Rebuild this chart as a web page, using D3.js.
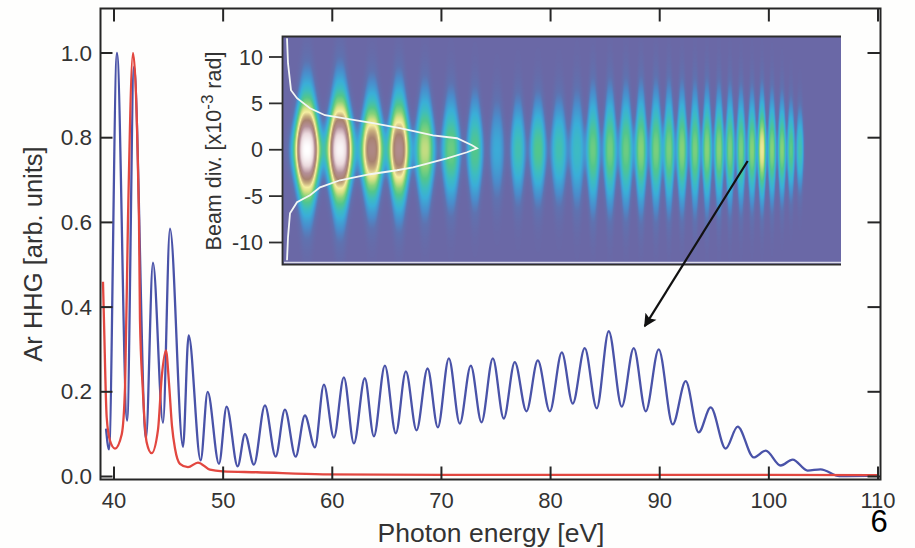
<!DOCTYPE html>
<html>
<head>
<meta charset="utf-8">
<script src="https://cdn.jsdelivr.net/npm/d3@7"></script>
<style>
html, body { margin: 0; padding: 0; background: #fefefd; }
svg { display: block; }
text { font-family: "Liberation Sans", Arial, sans-serif; fill: #333; }
</style>
</head>
<body>
<div id="chart"></div>
<script>
const xTicks = [40, 50, 60, 70, 80, 90, 100, 110];
const yTicks = [0, 0.2, 0.4, 0.6, 0.8, 1.0];
const divTicks = [-10, -5, 0, 5, 10];

// blue curve, peaks and valleys
const blueEnergy = [39.27, 39.54, 40.27, 41.2, 41.83, 42.93, 43.57, 44.49, 45.13, 46.32, 46.84, 47.94, 48.58, 49.62, 50.32, 51.33, 52.0, 52.82, 53.83, 54.81, 55.66, 56.64, 57.49, 58.41, 59.23, 60.15, 61.06, 61.98, 62.98, 63.81, 64.82, 65.82, 66.74, 67.72, 68.73, 69.67, 70.68, 71.68, 72.69, 73.67, 74.71, 75.71, 76.72, 77.79, 78.83, 79.93, 81.03, 82.03, 83.13, 84.23, 85.33, 86.52, 87.62, 88.72, 89.91, 91.19, 92.38, 93.57, 94.67, 96.04, 97.14, 98.61, 99.71, 101.08, 102.18, 103.55, 104.74, 106.48, 109.96];
const blueValue = [0.113, 0.064, 1.0, 0.132, 0.967, 0.09, 0.505, 0.127, 0.585, 0.07, 0.333, 0.038, 0.2, 0.03, 0.165, 0.024, 0.1, 0.028, 0.168, 0.047, 0.158, 0.047, 0.144, 0.069, 0.217, 0.092, 0.234, 0.078, 0.232, 0.095, 0.262, 0.102, 0.248, 0.109, 0.255, 0.116, 0.279, 0.125, 0.262, 0.128, 0.279, 0.137, 0.27, 0.154, 0.274, 0.154, 0.293, 0.172, 0.303, 0.161, 0.343, 0.165, 0.303, 0.154, 0.3, 0.123, 0.225, 0.104, 0.163, 0.066, 0.118, 0.045, 0.061, 0.026, 0.04, 0.014, 0.017, 0.001, 0.002];

const redEnergy = [38.99, 39.08, 39.33, 39.63, 40.09, 40.71, 41.01, 41.28, 41.74, 42.29, 42.38, 42.63, 42.99, 43.45, 44.03, 44.37, 44.76, 45.04, 45.31, 45.59, 46.04, 46.78, 47.69, 48.79, 49.98, 53.1, 59.14, 70, 85, 100, 110];
const redValue = [0.46, 0.37, 0.14, 0.085, 0.066, 0.1, 0.21, 0.605, 1.0, 0.605, 0.37, 0.21, 0.081, 0.055, 0.11, 0.234, 0.298, 0.22, 0.12, 0.066, 0.03, 0.022, 0.033, 0.016, 0.012, 0.01, 0.005, 0.004, 0.004, 0.004, 0.003];

// inset: one spot per harmonic, column on the detector
const spotColumn = [25, 58, 90, 117, 143, 169, 193, 215, 236, 256, 277, 295, 311, 328, 344, 359, 374, 387, 400, 413, 425, 437, 448, 459, 470, 480, 490, 500, 509, 518];
const spotPeak = [1.0, 0.98, 0.8, 0.82, 0.56, 0.46, 0.42, 0.24, 0.36, 0.42, 0.36, 0.32, 0.46, 0.47, 0.46, 0.5, 0.48, 0.48, 0.5, 0.48, 0.5, 0.5, 0.48, 0.48, 0.5, 0.62, 0.5, 0.5, 0.44, 0.36];
const spotWidth = [11, 11, 9.5, 9, 8, 7.5, 6.5, 6, 6, 6.5, 6.5, 6, 5.5, 5.5, 5.5, 5, 5, 4.5, 4.4, 4.2, 4, 4, 3.7, 3.7, 3.6, 3.4, 3.3, 3.2, 3, 3];
const spotHeight = [4.3, 4.5, 4, 4.2, 4.1, 3.9, 3.8, 3.6, 3.6, 3.6, 3.6, 4, 4.2, 4.2, 4.2, 4.2, 4.2, 4.2, 4.1, 4.1, 4.1, 4, 4, 3.9, 3.8, 3.8, 3.7, 3.5, 3.2, 2.9];

const profileDiv = [12.03, 9.33, 6.42, 5.56, 4.48, 3.72, 3.4, 2.86, 2.32, 1.56, 1.24, 0.49, 0.16, -0.27, -0.92, -1.89, -2.21, -2.64, -3.29, -4.05, -4.91, -5.66, -6.85, -9.44, -11.92];
const profileColumn = [5, 6, 9, 15, 28, 43, 61, 91, 118, 151, 175, 190, 195, 185, 165, 131, 115, 88, 58, 38, 28, 15, 8, 6, 5];

const heatStops = [0, 0.08, 0.15, 0.25, 0.33, 0.42, 0.5, 0.58, 0.64, 0.7, 0.76, 0.84, 0.92, 1.0];
const heatColors = ["#6a68a6", "#5f72b0", "#4a8ccb", "#3aaed8", "#3dbcc0", "#52c68c", "#86d278", "#d8e084", "#f5eea2", "#c9b07e", "#a88270", "#b48f98", "#ead8dc", "#ffffff"];

const width = 915;
const height = 548;
const frame = { left: 100.5, right: 880.5, top: 8.5, bottom: 479.5 };
const inset = { left: 282, right: 841, top: 36, bottom: 264 };

const x = d3.scaleLinear().domain([40, 110]).range([114, 878]);
const y = d3.scaleLinear().domain([0, 1]).range([476.5, 53]);
const divY = d3.scaleLinear().domain([-10, 10]).range([242.5, 57]);
const col = d3.scaleLinear().domain([0, 559]).range([inset.left, inset.right]);

const svg = d3.select("#chart").append("svg")
    .attr("width", width)
    .attr("height", height)
    .attr("viewBox", `0 0 ${width} ${height}`);

const defs = svg.append("defs");
defs.append("filter")
    .attr("id", "soft")
    .append("feGaussianBlur")
    .attr("stdDeviation", 0.45);

function drawHeatmap() {
    const w = inset.right - inset.left;
    const h = inset.bottom - inset.top;
    const canvas = document.createElement("canvas");
    canvas.width = w;
    canvas.height = h;
    const ctx = canvas.getContext("2d");
    const img = ctx.createImageData(w, h);
    const color = d3.scaleLinear().domain(heatStops).range(heatColors).clamp(true);

    for (let j = 0; j < h; j++) {
        const div = divY.invert(inset.top + j + 0.5);
        // spots get narrower towards their tips
        const taper = 1 + 0.04 * div * div;
        for (let i = 0; i < w; i++) {
            const c = col.invert(inset.left + i + 0.5);
            let v = 0;
            spotColumn.forEach((sc, k) => {
                const dx = Math.abs(c - sc) / spotWidth[k] * Math.sqrt(taper);
                const dy = div / spotHeight[k];
                v += spotPeak[k] * Math.exp(-0.5 * dx * dx * dx - 0.5 * dy * dy);
            });
            const rgb = d3.rgb(color(Math.min(v, 1)));
            const p = (j * w + i) * 4;
            img.data[p] = rgb.r;
            img.data[p + 1] = rgb.g;
            img.data[p + 2] = rgb.b;
            img.data[p + 3] = 255;
        }
    }
    ctx.putImageData(img, 0, 0);

    svg.append("image")
        .attr("x", inset.left)
        .attr("y", inset.top)
        .attr("width", w)
        .attr("height", h)
        .attr("href", canvas.toDataURL());

    svg.append("path")
        .attr("d", `M${inset.right},${inset.top + 0.5}H${inset.left + 0.5}V${inset.bottom + 0.5}H${inset.right}`)
        .attr("fill", "none")
        .attr("stroke", "#2e2e2e")
        .attr("stroke-width", 1.8);

    svg.append("line")
        .attr("x1", inset.left + 2)
        .attr("x2", inset.right)
        .attr("y1", inset.bottom - 1.5)
        .attr("y2", inset.bottom - 1.5)
        .attr("stroke", "#dcdcec")
        .attr("stroke-width", 1.5);

    const profile = d3.line()
        .x(d => col(d[0]))
        .y(d => divY(d[1]));

    svg.append("path")
        .datum(d3.zip(profileColumn, profileDiv))
        .attr("d", profile)
        .attr("fill", "none")
        .attr("stroke", "#f2f6f4")
        .attr("stroke-width", 1.8);

    const ticks = svg.append("g");
    divTicks.forEach(t => {
        ticks.append("line")
            .attr("x1", inset.left - 13)
            .attr("x2", inset.left)
            .attr("y1", divY(t))
            .attr("y2", divY(t))
            .attr("stroke", "#2e2e2e")
            .attr("stroke-width", 1.8);
        ticks.append("text")
            .attr("x", inset.left - 19)
            .attr("y", divY(t) + 7.5)
            .attr("text-anchor", "end")
            .attr("font-size", 21.5)
            .text(t);
    });

    svg.append("text")
        .attr("transform", "translate(221,151) rotate(-90)")
        .attr("text-anchor", "middle")
        .attr("font-size", 21.5)
        .html('Beam div. [x10<tspan dy="-8" font-size="17">-3</tspan><tspan dy="8">  rad]</tspan>');
}

function drawFrame() {
    svg.append("rect")
        .attr("x", frame.left)
        .attr("y", frame.top)
        .attr("width", frame.right - frame.left)
        .attr("height", frame.bottom - frame.top)
        .attr("fill", "none")
        .attr("stroke", "#262626")
        .attr("stroke-width", 2);

    const tick = svg.append("g")
        .attr("stroke", "#262626")
        .attr("stroke-width", 2);

    xTicks.forEach(t => {
        tick.append("line").attr("x1", x(t)).attr("x2", x(t)).attr("y1", frame.bottom).attr("y2", frame.bottom - 13);
        tick.append("line").attr("x1", x(t)).attr("x2", x(t)).attr("y1", frame.top).attr("y2", frame.top + 13);
    });
    yTicks.forEach(t => {
        tick.append("line").attr("x1", frame.left).attr("x2", frame.left + 12).attr("y1", y(t)).attr("y2", y(t));
        tick.append("line").attr("x1", frame.right).attr("x2", frame.right - 13).attr("y1", y(t)).attr("y2", y(t));
    });

    svg.selectAll(".x-label")
        .data(xTicks)
        .enter()
        .append("text")
        .attr("class", "x-label")
        .attr("x", d => x(d))
        .attr("y", 508)
        .attr("text-anchor", "middle")
        .attr("font-size", 22)
        .text(d => d);

    svg.selectAll(".y-label")
        .data(yTicks)
        .enter()
        .append("text")
        .attr("class", "y-label")
        .attr("x", 92)
        .attr("y", d => y(d) + 7.5)
        .attr("text-anchor", "end")
        .attr("font-size", 22.5)
        .text(d => d.toFixed(1));

    svg.append("text")
        .attr("x", 491)
        .attr("y", 542)
        .attr("text-anchor", "middle")
        .attr("font-size", 26.5)
        .text("Photon energy [eV]");

    svg.append("text")
        .attr("transform", "translate(42,254) rotate(-90)")
        .attr("text-anchor", "middle")
        .attr("font-size", 25.5)
        .text("Ar HHG [arb. units]");

    svg.append("text")
        .attr("x", 879)
        .attr("y", 532)
        .attr("text-anchor", "middle")
        .attr("font-size", 31)
        .style("fill", "#000")
        .text("6");
}

function drawCurves() {
    const line = d3.line()
        .x(d => x(d[0]))
        .y(d => y(d[1]))
        .curve(d3.curveMonotoneX);

    svg.append("path")
        .datum(d3.zip(blueEnergy, blueValue))
        .attr("d", line)
        .attr("fill", "none")
        .attr("stroke", "#4a52a8")
        .attr("stroke-width", 2.3)
        .attr("filter", "url(#soft)");

    svg.append("path")
        .datum(d3.zip(redEnergy, redValue))
        .attr("d", line)
        .attr("fill", "none")
        .attr("stroke", "#e2473f")
        .attr("stroke-width", 2.3)
        .attr("filter", "url(#soft)");
}

function drawArrow() {
    defs.append("marker")
        .attr("id", "head")
        .attr("viewBox", "0 0 10 10")
        .attr("refX", 9)
        .attr("refY", 5)
        .attr("markerWidth", 16)
        .attr("markerHeight", 13)
        .attr("markerUnits", "userSpaceOnUse")
        .attr("orient", "auto")
        .append("path")
        .attr("d", "M0,0L10,5L0,10L2,5Z")
        .attr("fill", "#111");

    svg.append("line")
        .attr("x1", x(98.06))
        .attr("y1", y(0.745))
        .attr("x2", x(88.63))
        .attr("y2", y(0.355))
        .attr("stroke", "#111")
        .attr("stroke-width", 2.2)
        .attr("marker-end", "url(#head)");
}

drawHeatmap();
drawCurves();
drawFrame();
drawArrow();
</script>
</body>
</html>
